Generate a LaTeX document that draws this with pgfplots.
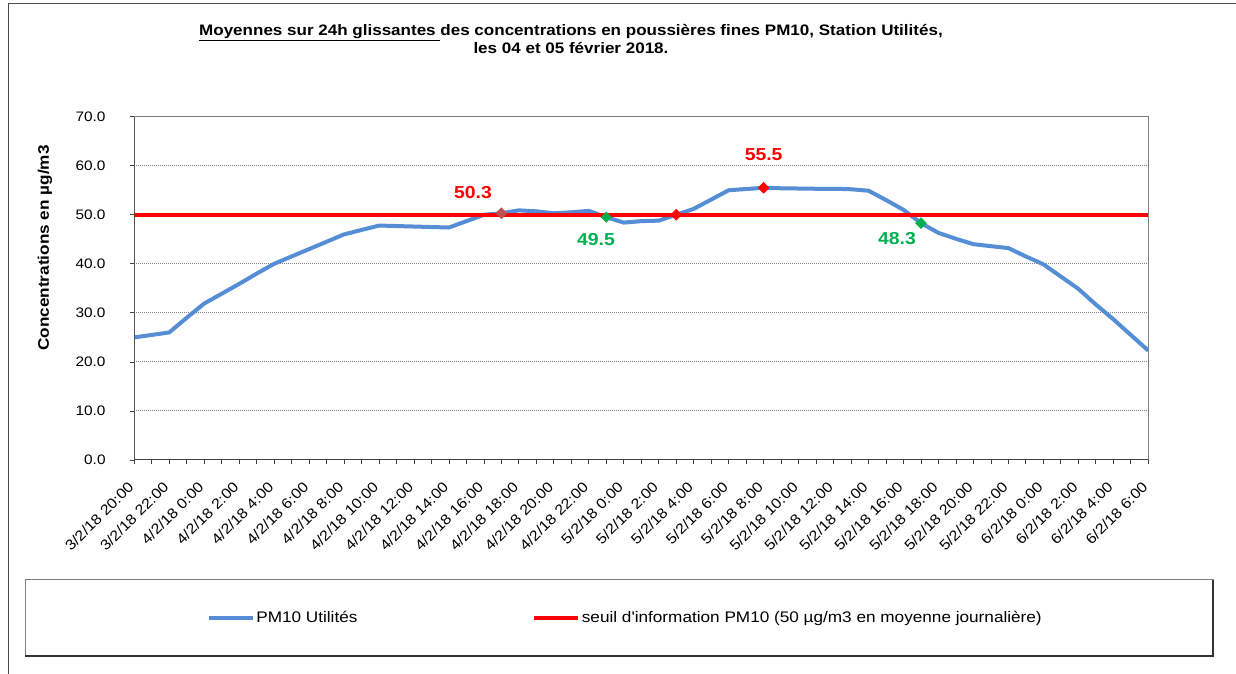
\documentclass[border=0pt]{standalone}
\usepackage{pgfplots}
\pgfplotsset{compat=1.18}
\usepackage{fontspec}
\setmainfont[FakeStretch=1.12, Ligatures=TeXOff]{Liberation Sans}
\definecolor{pmblue}{HTML}{558ED5}
\definecolor{pmgreen}{HTML}{00B050}
\definecolor{pmbrown}{HTML}{C0504D}
\definecolor{gridgray}{HTML}{808080}
\begin{document}
\begin{tikzpicture}
\path[use as bounding box] (0,0) rectangle (927pt,505.5pt);
\draw[black!70, line width=0.75pt] (6pt,0pt) -- (6pt,502.5pt) -- (927pt,502.5pt);
\begin{axis}[
  at={(100.7pt,160.5pt)}, anchor=south west,
  scale only axis, width=760.5pt, height=257.5pt,
  xmin=0, xmax=58, ymin=0, ymax=70,
  xtick={0,2,...,58}, minor xtick={1,3,...,57},
  xticklabels={3/2/18 20:00,3/2/18 22:00,4/2/18 0:00,4/2/18 2:00,4/2/18 4:00,4/2/18 6:00,4/2/18 8:00,4/2/18 10:00,4/2/18 12:00,4/2/18 14:00,4/2/18 16:00,4/2/18 18:00,4/2/18 20:00,4/2/18 22:00,5/2/18 0:00,5/2/18 2:00,5/2/18 4:00,5/2/18 6:00,5/2/18 8:00,5/2/18 10:00,5/2/18 12:00,5/2/18 14:00,5/2/18 16:00,5/2/18 18:00,5/2/18 20:00,5/2/18 22:00,6/2/18 0:00,6/2/18 2:00,6/2/18 4:00,6/2/18 6:00},
  ytick={0,10,...,70},
  xtick pos=bottom, ytick pos=left,
  tick align=outside, major tick length=3pt, minor tick length=3pt,
  every tick/.style={black!75, line width=0.6pt},
  minor tick style={black!75, line width=0.6pt},
  axis line style={gridgray, line width=0.75pt},
  ymajorgrids,
  major grid style={gridgray, line width=0.75pt, dash pattern=on 0.75pt off 0.75pt},
  xticklabel shift=13pt,
  xticklabel style={rotate=45, anchor=east, font=\fontsize{10.8}{12}\selectfont},
  yticklabel style={font=\fontsize{10.3}{12}\selectfont, xshift=-15pt, /pgf/number format/.cd, fixed, fixed zerofill, precision=1, assume math mode=true},
  ylabel={Concentrations en µg/m3},
  ylabel style={at={(-0.088,0.6175)}, anchor=center, font=\bfseries\fontsize{11.5}{13}\selectfont},
  title={\underline{Moyennes sur 24h glissantes }des concentrations en poussières fines PM10, Station Utilités,\\les 04 et 05 février 2018.},
  title style={at={(0.4307,1.203)}, anchor=center, align=center, font=\bfseries\fontsize{11.4}{12.75}\selectfont},
  legend columns=2,
  legend image code/.code={\draw[#1] (0pt,0pt) -- (33pt,0pt);},
  legend style={at={(0.0717,-0.4602)}, anchor=west, draw=none, fill=none, inner sep=0pt, outer sep=0pt,
    /tikz/every even column/.append style={column sep=0pt},
    nodes={inner sep=1pt}, font=\fontsize{11.5}{13}\selectfont},
]
\addplot[pmblue, line width=3pt, line join=round] coordinates {
(0,25.0) (1,25.5) (2,26.0) (3,29.0) (4,31.9) (5,33.9) (6,35.9) (7,38.0) (8,40.0) (9,41.5)
(10,43.0) (11,44.5) (12,46.0) (13,46.9) (14,47.8) (15,47.7) (16,47.6) (17,47.5) (18,47.4) (19,48.7)
(20,50.0) (21,50.3) (22,50.9) (23,50.7) (24,50.3) (25,50.5) (26,50.8) (27,49.5) (28,48.4) (29,48.7)
(30,48.8) (31,50.0) (32,51.2) (33,53.1) (34,55.0) (35,55.25) (36,55.5) (37,55.4) (38,55.35) (39,55.3)
(40,55.3) (41,55.2) (42,54.9) (43,53.0) (44,51.0) (45,48.3) (46,46.3) (47,45.1) (48,44.0) (49,43.6)
(50,43.2) (51,41.5) (52,39.9) (53,37.4) (54,34.9) (55,31.7) (56,28.7) (57,25.5) (58,22.3)
};
\addlegendentry{\makebox[206pt][l]{PM10 Utilités}}
\addplot[red, line width=3.2pt] coordinates {(0,50) (58,50)};
\addlegendentry{seuil d'information PM10 (50 µg/m3 en moyenne journalière)}
\addplot[forget plot, only marks, mark=square*, mark size=2.9pt, mark options={rotate=45, draw=pmbrown, fill=pmbrown},
  nodes near coords, point meta=explicit symbolic,
  nodes near coords style={anchor=center, xshift=-21.3pt, yshift=15.2pt, text=red, font=\bfseries\fontsize{13}{15}\selectfont}]
  coordinates {(21,50.3) [50.3]};
\addplot[forget plot, only marks, mark=square*, mark size=2.7pt, mark options={rotate=45, draw=pmgreen, fill=pmgreen},
  nodes near coords, point meta=explicit symbolic,
  nodes near coords style={anchor=center, xshift=-7.7pt, yshift=-16.5pt, text=pmgreen, font=\bfseries\fontsize{13}{15}\selectfont}]
  coordinates {(27,49.5) [49.5]};
\addplot[forget plot, only marks, mark=square*, mark size=2.9pt, mark options={rotate=45, draw=red, fill=red}]
  coordinates {(31,50.0)};
\addplot[forget plot, only marks, mark=square*, mark size=2.9pt, mark options={rotate=45, draw=red, fill=red},
  nodes near coords, point meta=explicit symbolic,
  nodes near coords style={anchor=center, xshift=0pt, yshift=24.5pt, text=red, font=\bfseries\fontsize{13}{15}\selectfont}]
  coordinates {(36,55.5) [55.5]};
\addplot[forget plot, only marks, mark=square*, mark size=2.9pt, mark options={rotate=45, draw=pmgreen, fill=pmgreen},
  nodes near coords, point meta=explicit symbolic,
  nodes near coords style={anchor=center, xshift=-18pt, yshift=-11.3pt, text=pmgreen, font=\bfseries\fontsize{13}{15}\selectfont}]
  coordinates {(45,48.3) [48.3]};
\draw[black!75, line width=1pt] (rel axis cs:0,1) -- (rel axis cs:0,0) -- (rel axis cs:1,0);
\end{axis}
\draw[gridgray, line width=0.75pt] (18.75pt,13.5pt) rectangle (909.75pt,70.5pt);
\draw[black!80, line width=1pt] (18.75pt,13.5pt) -- (909.75pt,13.5pt) -- (909.75pt,70.5pt);
\end{tikzpicture}
\end{document}
